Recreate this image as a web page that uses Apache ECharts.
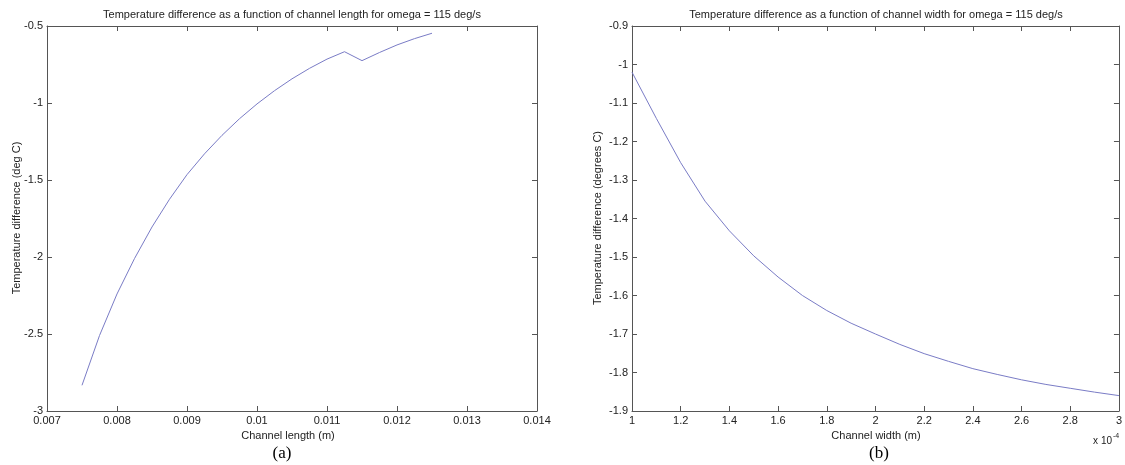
<!DOCTYPE html>
<html>
<head>
<meta charset="utf-8">
<script src="https://cdn.jsdelivr.net/npm/echarts@6/dist/echarts.min.js"></script>
<style>
html,body{margin:0;padding:0;background:#fff;}
#chart{width:1125px;height:465px;}
</style>
</head>
<body>
<div id="chart"></div>
<script>
// ---- Data ----
// (a) channel length (m) vs temperature difference (deg C)
const lengthX = [0.0075, 0.00775, 0.008, 0.00825, 0.0085, 0.00875, 0.009, 0.00925, 0.0095, 0.00975,
                 0.01, 0.01025, 0.0105, 0.01075, 0.011, 0.01125, 0.0115, 0.01175, 0.012, 0.01225, 0.0125];
const lengthT = [-2.833, -2.51, -2.24, -2.01, -1.805, -1.625, -1.465, -1.33, -1.21, -1.102,
                 -1.006, -0.92, -0.843, -0.775, -0.715, -0.667, -0.725, -0.672, -0.623, -0.582, -0.547];
// (b) channel width (x 10^-4 m) vs temperature difference (degrees C)
const widthX = [1.0, 1.1, 1.2, 1.3, 1.4, 1.5, 1.6, 1.7, 1.8, 1.9, 2.0,
                2.1, 2.2, 2.3, 2.4, 2.5, 2.6, 2.7, 2.8, 2.9, 3.0];
const widthT = [-1.02, -1.14, -1.255, -1.355, -1.432, -1.497, -1.552, -1.600, -1.639, -1.672, -1.700,
                -1.727, -1.751, -1.771, -1.790, -1.805, -1.819, -1.831, -1.841, -1.851, -1.860];

const titleA = 'Temperature difference as a function of channel length for omega = 115 deg/s';
const titleB = 'Temperature difference as a function of channel width for omega = 115 deg/s';
const xNameA = 'Channel length (m)';
const xNameB = 'Channel width (m)';
const yNameA = 'Temperature difference (deg C)';
const yNameB = 'Temperature difference (degrees C)';

const FONT = '"Liberation Sans", Arial, sans-serif';
const AX = '#555';
const TXT = '#222';
const LINE = '#7a7cc6';

function fmt(v) { return String(+v.toFixed(4)); }

function mainAxis(extra) {
  return Object.assign({
    type: 'value',
    axisLine: { show: true, lineStyle: { color: AX, width: 1 } },
    axisTick: { show: true, inside: true, length: 5, lineStyle: { color: AX } },
    splitLine: { show: false },
    axisLabel: { show: true, color: TXT, fontSize: 11, fontFamily: FONT, formatter: fmt }
  }, extra);
}
function mirrorAxis(extra) {
  return Object.assign({
    type: 'value',
    axisLine: { show: true, lineStyle: { color: AX, width: 1 } },
    axisTick: { show: true, inside: true, length: 5, lineStyle: { color: AX } },
    splitLine: { show: false },
    axisLabel: { show: false }
  }, extra);
}

const chart = echarts.init(document.getElementById('chart'), null, { renderer: 'canvas' });

const option = {
  backgroundColor: '#fff',
  animation: false,
  grid: [
    { left: 47, right: 588, top: 26, bottom: 54 },
    { left: 632, right: 5, top: 26, bottom: 54 }
  ],
  xAxis: [
    mainAxis({ gridIndex: 0, position: 'bottom', min: 0.007, max: 0.014, interval: 0.001,
               axisLabel: { color: TXT, fontSize: 11, fontFamily: FONT, margin: 4, formatter: fmt } }),
    mirrorAxis({ gridIndex: 0, position: 'top', min: 0.007, max: 0.014, interval: 0.001 }),
    mainAxis({ gridIndex: 1, position: 'bottom', min: 1, max: 3, interval: 0.2,
               axisLabel: { color: TXT, fontSize: 11, fontFamily: FONT, margin: 4, formatter: fmt } }),
    mirrorAxis({ gridIndex: 1, position: 'top', min: 1, max: 3, interval: 0.2 })
  ],
  yAxis: [
    mainAxis({ gridIndex: 0, position: 'left', min: -3, max: -0.5, interval: 0.5,
               axisLabel: { color: TXT, fontSize: 11, fontFamily: FONT, margin: 4, formatter: fmt } }),
    mirrorAxis({ gridIndex: 0, position: 'right', min: -3, max: -0.5, interval: 0.5 }),
    mainAxis({ gridIndex: 1, position: 'left', min: -1.9, max: -0.9, interval: 0.1,
               axisLabel: { color: TXT, fontSize: 11, fontFamily: FONT, margin: 4, formatter: fmt } }),
    mirrorAxis({ gridIndex: 1, position: 'right', min: -1.9, max: -0.9, interval: 0.1 })
  ],
  series: [
    {
      type: 'line', xAxisIndex: 0, yAxisIndex: 0,
      data: lengthX.map((x, i) => [x, lengthT[i]]),
      showSymbol: false, symbol: 'none', smooth: false,
      lineStyle: { color: LINE, width: 1 }
    },
    {
      type: 'line', xAxisIndex: 2, yAxisIndex: 2,
      data: widthX.map((x, i) => [x, widthT[i]]),
      showSymbol: false, symbol: 'none', smooth: false,
      lineStyle: { color: LINE, width: 1 }
    }
  ],
  graphic: [
    { type: 'text', x: 292, y: 15, style: { text: titleA, font: '11px ' + FONT, fill: TXT, align: 'center', verticalAlign: 'middle' } },
    { type: 'text', x: 876, y: 15, style: { text: titleB, font: '11px ' + FONT, fill: TXT, align: 'center', verticalAlign: 'middle' } },
    { type: 'text', x: 288, y: 436, style: { text: xNameA, font: '11px ' + FONT, fill: TXT, align: 'center', verticalAlign: 'middle' } },
    { type: 'text', x: 876, y: 436, style: { text: xNameB, font: '11px ' + FONT, fill: TXT, align: 'center', verticalAlign: 'middle' } },
    { type: 'text', x: 17, y: 218, rotation: Math.PI / 2, style: { text: yNameA, font: '11px ' + FONT, fill: TXT, align: 'center', verticalAlign: 'middle' } },
    { type: 'text', x: 598, y: 218, rotation: Math.PI / 2, style: { text: yNameB, font: '11px ' + FONT, fill: TXT, align: 'center', verticalAlign: 'middle' } },
    { type: 'text', x: 282, y: 454, style: { text: '(a)', font: '17px "Liberation Serif", "Times New Roman", serif', fill: '#000', align: 'center', verticalAlign: 'middle' } },
    { type: 'text', x: 879, y: 454, style: { text: '(b)', font: '17px "Liberation Serif", "Times New Roman", serif', fill: '#000', align: 'center', verticalAlign: 'middle' } },
    { type: 'text', x: 1112, y: 441, style: { text: 'x 10', font: '10px ' + FONT, fill: TXT, align: 'right', verticalAlign: 'middle' } },
    { type: 'text', x: 1113, y: 436, style: { text: '-4', font: '7px ' + FONT, fill: TXT, align: 'left', verticalAlign: 'middle' } }
  ]
};

chart.setOption(option);
</script>
</body>
</html>
